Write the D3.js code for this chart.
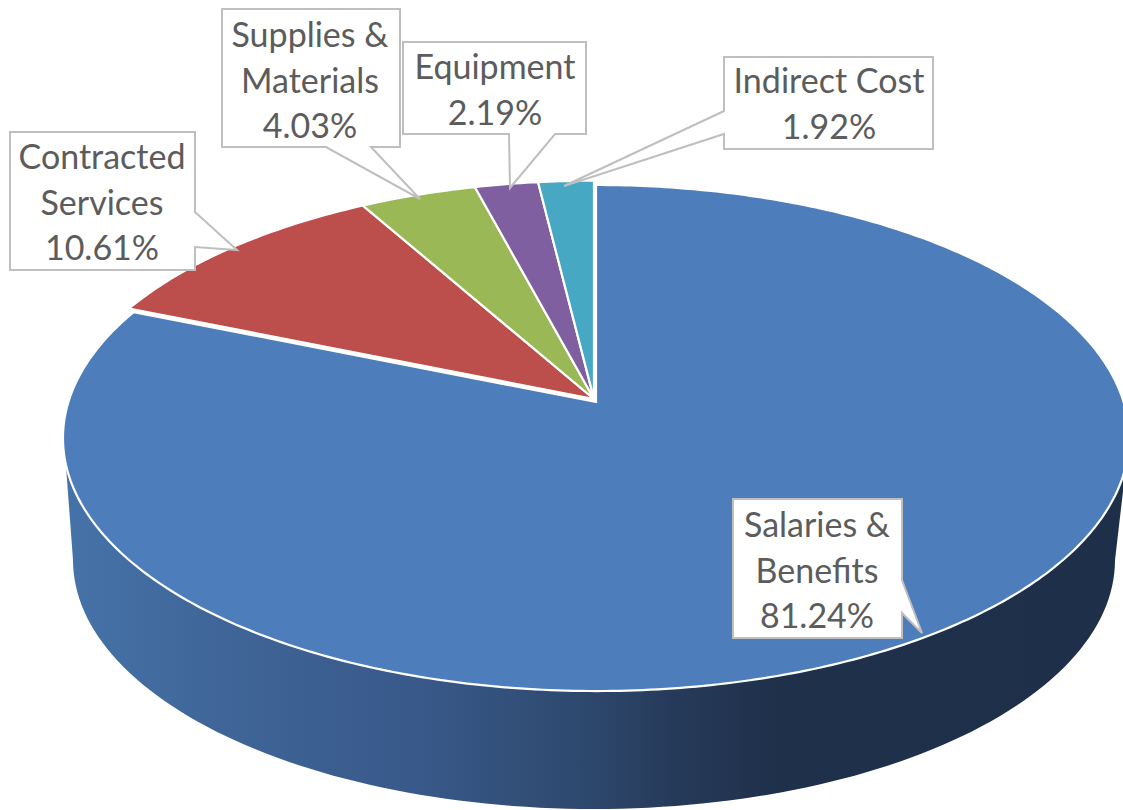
<!DOCTYPE html>
<html>
<head>
<meta charset="utf-8">
<script src="https://cdn.jsdelivr.net/npm/d3@7"></script>
<style>
  html, body { margin: 0; padding: 0; background: #fff; }
  svg { display: block; }
</style>
</head>
<body>
<div id="chart"></div>
<script>
  // chart values
  var categories = ["Salaries & Benefits", "Contracted Services", "Supplies & Materials", "Equipment", "Indirect Cost"];
  var values = [81.24, 10.61, 4.03, 2.19, 1.92];
  var valueLabels = ["81.24%", "10.61%", "4.03%", "2.19%", "1.92%"];
  var colors = ["#4d7ebb", "#bc4e4b", "#9ab855", "#7f5f9f", "#47a8c4"];

  // how the category names wrap inside the callouts
  var labelLines = [["Salaries &", "Benefits"], ["Contracted", "Services"], ["Supplies &", "Materials"], ["Equipment"], ["Indirect Cost"]];

  var width = 1123, height = 810;

  // callout layout: box x, y, w, h, then the pointer (start, tip, end)
  var callouts = [
    {box: [733, 499, 169, 139], pointer: [[902, 580], [922, 633], [902, 613]], textX: 817, firstBase: 537},
    {box: [10, 132, 185, 138], pointer: [[195, 212], [237, 250], [195, 247]], textX: 102, firstBase: 169},
    {box: [222, 9, 178, 138], pointer: [[326, 147], [420, 199], [371, 147]], textX: 310, firstBase: 47},
    {box: [403, 42, 183, 92], pointer: [[509, 134], [510, 188], [555, 134]], textX: 495, firstBase: 79},
    {box: [724, 57, 209, 92], pointer: [[724, 111], [564, 186], [724, 134]], textX: 829, firstBase: 93}
  ];

  // the tilted pie top is a circle seen in perspective
  var apexX = 596, apexY = 402, persp = 0.1423, scaleX = 527.6, scaleY = -190.7;
  function rim(a) {
    var u = Math.sin(a), v = Math.cos(a), k = 1 + persp * v;
    return [apexX + scaleX * u / k, (apexY + scaleY * v) / k];
  }
  // lower edge of the pie wall
  var lowX = 594, lowY = 560, lowRx = 521, lowRy = 249;
  function lowRim(a) {
    return [lowX + lowRx * Math.sin(a), lowY - lowRy * Math.cos(a)];
  }
  function rad(d) { return d * Math.PI / 180; }
  function sweep(a0, a1, n) {
    return d3.range(n + 1).map(function(i) { return a0 + (a1 - a0) * i / n; });
  }

  var line = d3.line();

  var svg = d3.select("#chart")
    .append("svg")
    .attr("width", width)
    .attr("height", height)
    .style("background-color", "white");

  // wall shading goes from mid blue at the left to dark navy at the right
  var grad = svg.append("defs").append("linearGradient")
    .attr("id", "wall")
    .attr("gradientUnits", "userSpaceOnUse")
    .attr("x1", 65).attr("x2", 1120).attr("y1", 0).attr("y2", 0);
  [[0, "#4573a9"], [0.164, "#3f6496"], [0.334, "#38598a"], [0.479, "#2f4a70"], [0.575, "#263b5b"], [0.672, "#1f304a"], [1, "#1e3049"]].forEach(function(s) {
    grad.append("stop").attr("offset", s[0]).attr("stop-color", s[1]);
  });

  // wall
  var topEdge = sweep(rad(104), rad(256), 120).map(rim);
  var lowEdge = sweep(rad(270), rad(90), 120).map(lowRim);
  svg.append("path")
    .attr("d", line(topEdge.concat(lowEdge)) + "Z")
    .attr("fill", "url(#wall)");

  // slices, clockwise from twelve o'clock
  var pie = d3.pie().sort(null).startAngle(0).endAngle(2 * Math.PI);
  var arcs = pie(values);

  svg.append("g").selectAll("path")
    .data(arcs)
    .enter()
    .append("path")
    .attr("d", function(d) {
      var n = Math.max(8, Math.round((d.endAngle - d.startAngle) * 80));
      var pts = sweep(d.startAngle, d.endAngle, n).map(rim);
      return line([[apexX, apexY]].concat(pts)) + "Z";
    })
    // the small slices sit a touch off the big one
    .attr("transform", function(d, i) {
      if (i == 0) return null;
      return "translate(-2,-3) translate(" + apexX + "," + apexY + ") scale(1.006) translate(" + (-apexX) + "," + (-apexY) + ")";
    })
    .attr("fill", function(d, i) { return colors[i]; })
    .attr("stroke", "white")
    .attr("stroke-width", 2.2)
    .attr("stroke-linejoin", "miter");

  // callouts
  var labels = svg.append("g").selectAll("g")
    .data(categories)
    .enter()
    .append("g");

  labels.append("path")
    .attr("d", function(d, i) {
      var c = callouts[i], b = c.box;
      var x0 = b[0], y0 = b[1], x1 = b[0] + b[2], y1 = b[1] + b[3];
      var p = c.pointer;
      // walk round the box clockwise and break out at the side the pointer leaves from
      var pts;
      if (p[0][0] == x1) pts = [[x0, y0], [x1, y0], p[0], p[1], p[2], [x1, y1], [x0, y1]];
      else if (p[0][1] == y1) pts = [[x0, y0], [x1, y0], [x1, y1], p[2], p[1], p[0], [x0, y1]];
      else pts = [[x0, y0], [x1, y0], [x1, y1], [x0, y1], p[2], p[1], p[0]];
      return line(pts) + "Z";
    })
    .attr("fill", "white")
    .attr("stroke", "#bfbfbf")
    .attr("stroke-width", 2);

  labels.each(function(d, i) {
    var c = callouts[i];
    var rows = labelLines[i].concat([valueLabels[i]]);
    d3.select(this).selectAll("text")
      .data(rows)
      .enter()
      .append("text")
      .attr("x", c.textX)
      .attr("y", function(r, j) { return c.firstBase + j * 45.5; })
      .attr("text-anchor", "middle")
      .attr("font-family", "Lato, 'Open Sans', sans-serif")
      .attr("font-size", "34px")
      .attr("fill", "#5c5c5c")
      .text(function(r) { return r; });
  });
</script>
</body>
</html>
